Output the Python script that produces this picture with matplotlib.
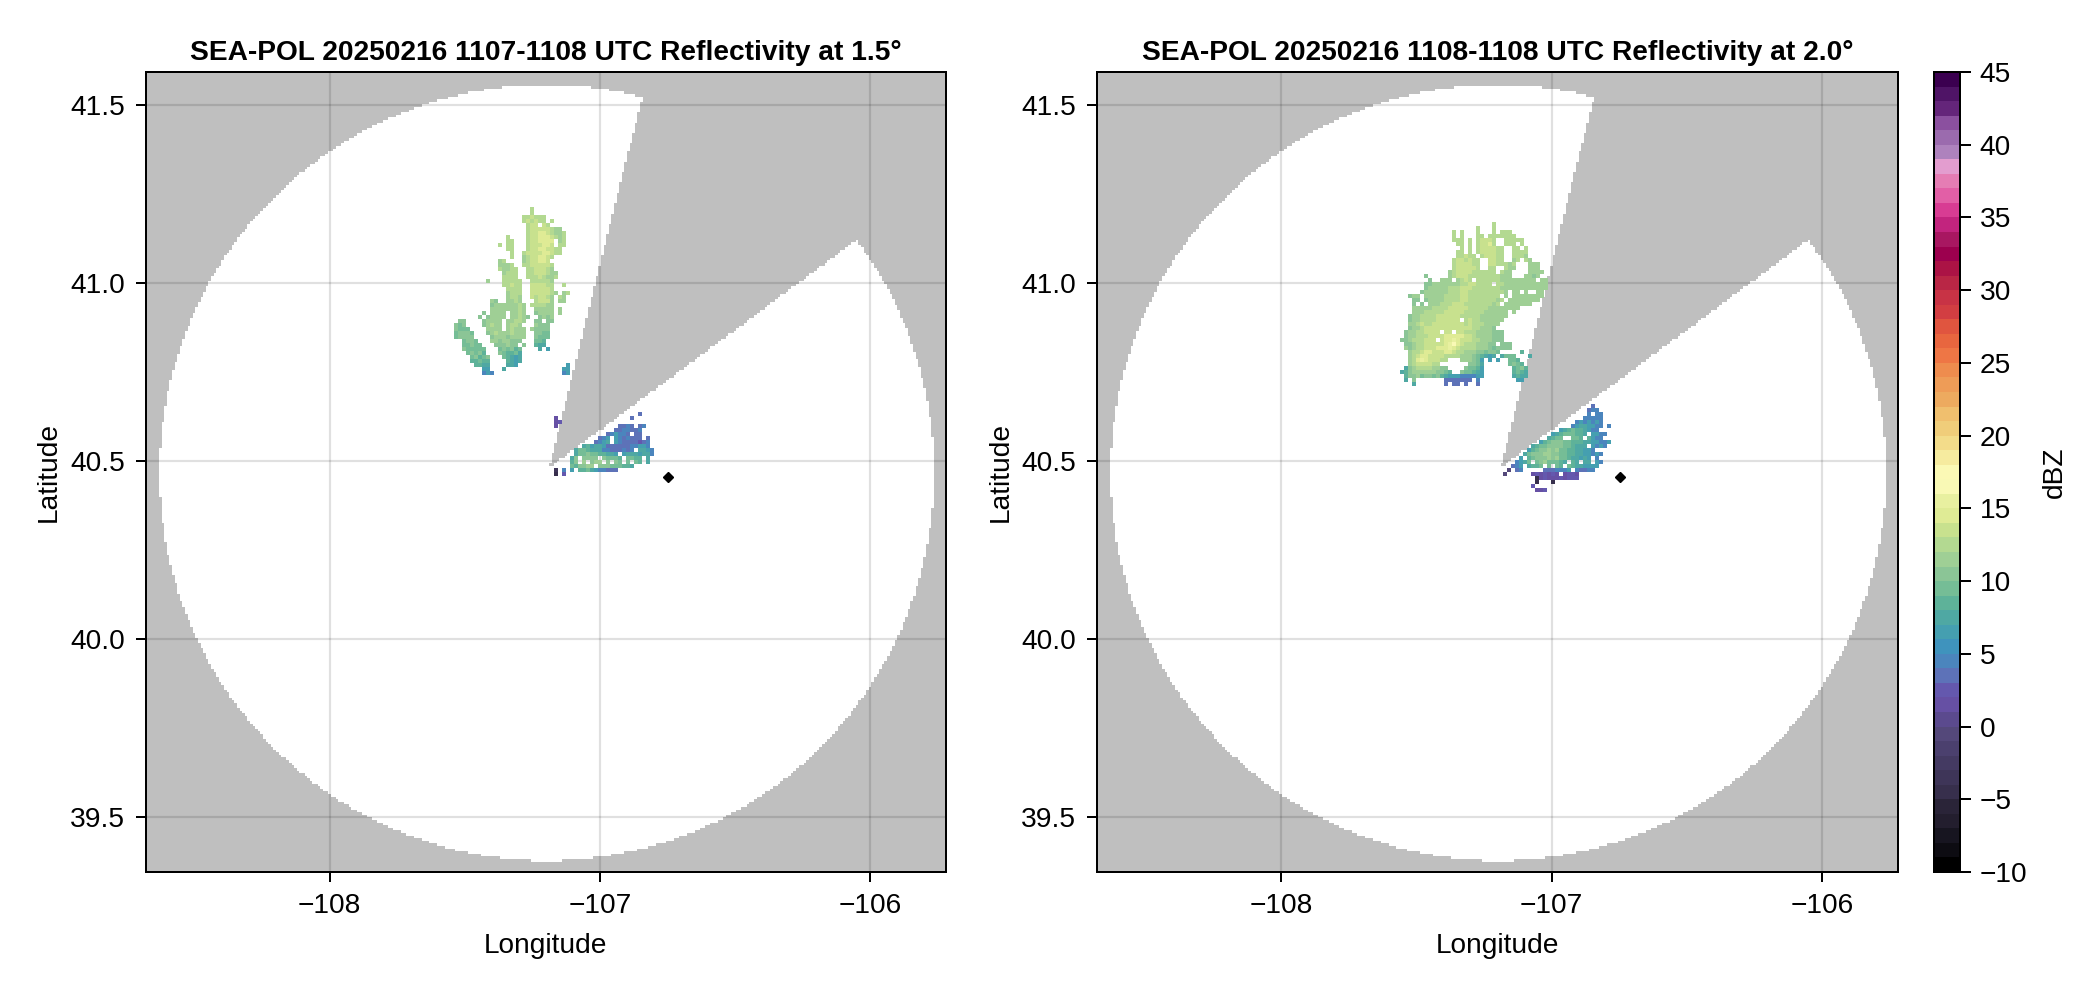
import matplotlib
matplotlib.use("Agg")
import matplotlib.pyplot as plt
import numpy as np
from matplotlib.colors import ListedColormap, Normalize

plt.rcParams["font.family"] = ["Liberation Sans", "DejaVu Sans"]
plt.rcParams["font.size"] = 20.25

titles = [
    "SEA-POL 20250216 1107-1108 UTC Reflectivity at 1.5°",
    "SEA-POL 20250216 1108-1108 UTC Reflectivity at 2.0°",
]
lon_ticks = [-108, -107, -106]
lat_ticks = [39.5, 40.0, 40.5, 41.0, 41.5]
cbar_ticks = list(range(-10, 50, 5))

# one colour per dBZ bin, -10 to 45
dbz_colors = [
    "#000000", "#0d0c12", "#171520", "#231e2e", "#2a2438", "#372f4c", "#3e3558",
    "#443a62", "#4b406e", "#54487a", "#5b4a8e", "#6650a4", "#6458ae", "#5d72b8",
    "#4b85bd", "#3f93bd", "#459fb0", "#4fa8a3", "#5eb299", "#75bd96", "#8bc596",
    "#9fcf95", "#b3d991", "#c8e18e", "#dfeb95", "#e8f0a0", "#f9f9b5", "#fbf9b5",
    "#f6eb9f", "#f3dc8a", "#f0cd7a", "#f0bf6e", "#edaa5f", "#ee9c57", "#ee8c4e",
    "#ee7645", "#e8663f", "#e0553f", "#d23e42", "#c83345", "#b92645", "#ab1345",
    "#9c004e", "#a81761", "#c2247e", "#d83c93", "#e25fa6", "#e57db4", "#e39dcf",
    "#ae82bd", "#9b6bae", "#8b509f", "#64257a", "#4f1466", "#3b0050",
]

circle_lon, circle_lat = -107.197, 40.468
max_range_deg = 1.09  # in degrees of latitude
wedge_lon, wedge_lat = -107.188, 40.482
blocked_az = (14.1, 53.5)
city_lon, city_lat = -106.748, 40.455
xlim = (-108.68, -105.72)
ylim = (39.346, 41.594)
dlon, dlat = 0.0148, 0.01125
cover_step = 0.65  # coverage raster is finer than the echo raster

# dBZ rasters, one char per grid cell, '.' is no echo
DBZ_CODES = "vwxyz0123456789abcdefg"  # v = -5 ... 0 = 0 ... g = 16

echo_1_north = [
    "....................c",
    "....................c",
    "..................ccdccc",
    "..................cdcdcc.c",
    "...................cdd.dc",
    "...................cdddddcbb",
    "...................cddeedcbbc",
    "..............c....cddeeedcbc",
    "..............cc...cddeeee.bc",
    "............c.cc...cdddeed.cc",
    "..............cc...cddeeddcc",
    "...............c..cddddeedcc",
    "...............c..bcddeedc",
    "............bc....bcddeed",
    "............bbbc..ccdddddc",
    "............cbbcc..ccdddcb",
    ".............bccc..ccdddcbb",
    ".............cccc..cccdcbbc",
    ".........b...ccccc..cccccb",
    ".............ccdcc..ddddcc..c",
    "..............cccc..dddddc",
    "..............bccc..dddddcb.bc",
    "..............bccb..dcddcb.cb",
    "..........ba..bbcb...cdddb.bb",
    "..........abbbbbbcb.ccccbb",
    "..........bbbbbbbcb..bbbbb.b",
    "........a.bbbb.bbcb..abbbb.b",
    ".......a.abbbb.bbcba..abab",
    "..aa....abbbb.bbccb..aa.aa",
    ".a9a....abcbb.bccb...baaa",
    ".a999....bbbb.bcbbb.baaaa",
    ".9aaa9...abcbbbcbbb..aa99",
    ".9aaaa....abbbabbbb..a999",
    "...9aa9...bbabbaaa...998",
    "...99a99...aaabaa.a..877",
    "...a99999...9a9a89....7.6",
    "....9a9a8...a98897",
    ".....9a89a...98767",
    ".....88988....8767",
    "......8877....776............6",
    "........66...7..............66",
    "........565.................56",
]
echo_1_south = [
    "......................4",
    ".1..................4",
    ".12",
    ".1...............4454.45",
    "................4455445",
    "..............456554.44",
    "............456.6545444.4",
    "...........4567.654434245",
    "........78677644344455665",
    "......799877755444545.7765",
    "......799a9988776.67776775",
    ".....7a.aaaa.a9998.9988.7",
    ".....8a.b.abb.a.a9.9.98.7",
    ".....98aabb.aaa999887",
    ".w.5.6.8897655443",
    ".v.2",
]
echo_2_north = [
    ".......................c",
    "...................c...c",
    ".............c.c...c...c.ccc",
    ".............c.c...cc.ccccccc",
    ".............ccc.c.cdddc..ccccc",
    "..............cc.c.cddec..ccc.c",
    "...............c.c.cddddcc..cc.c",
    "..............cc.c.cddddcc..cccc",
    "..............ccdcc.cdddcc..cccb",
    ".............cddcdcc..ddcc..bc.cb",
    ".............cddddcc..ddcccbc...bbb",
    ".............cdddddc..cc..cbb...bbb",
    "............bcddddcccccc.cbb....bbbb",
    "......a.....bcdddccccccccbbb...bbab",
    ".......a..bbb.bcdc.ccccccbbbbbbbbb.bb",
    "......aabbbbbbbccddcccc.ccbbbbbbbbbbb",
    "......abbbbbcccdddcccccccbbbbbbbbbbbb",
    ".....abbbbbbcccddcccccccccb.bb.b..bb",
    "..abb.bbbbbccccddcccccccc.b.bbbbbbbb",
    "...aa.abbbbccccddcccccccbc.bbbbbbbb",
    "...a.a.bbbcccdddcccccccbc.bbbbbbb",
    "...bbbbbccccdddddcccccbbbbbbbb",
    "...bbbcccccdddddcccccbbbbbb.b",
    "..abbccccddddddcccccbbbbbbb",
    "..abbccccdddddd.cdccbbbbbb",
    "..bbcdccddddddddcdcccbbbb",
    "..abbcddddddddddddccbbba",
    ".abbccdddd.dd.ddcccbbbbaaa",
    ".abbcccddddeeeeeddcbbbbaaa",
    "aabcccddd.deefedddccbbbaaa",
    ".aabccdddddefgedcccbbbaa.aaa",
    ".babccdddeeefedccccbbba9aaaa",
    "..bccdeedddeedccbbbaa9aa9.....8",
    "..bcdeeddddccccbbba98767.7999...7",
    "..bcefedddcc...bbba96.6.6..998",
    "..bcddddcc.......aa97......9a98",
    ".7abccccbbaa....a9986.......89a8",
    "78abbbbbbaa98..a99876.......8987",
    ".8aab9aa9a87666555566.......7877",
    ".7.a.......4344334.5.........66",
    "...7.......3.33.3..3",
]
echo_2_south = [
    "......................4",
    ".....................455",
    ".....................5.55",
    "....................55555",
    "..................5656565",
    ".................56776655.5",
    "..............6789887655",
    "............678999887.6655",
    "...........7899..998.8655",
    ".........689aaa998887766556",
    ".......7899aaaa998777.6565",
    "......689aabab998877665",
    ".....79aaabbaa99887766565",
    "....6.89aaabab99877676.5",
    "...5679.9ab99987.87.77.65",
    "..356.7889.9.98.98776666",
    ".z.45.....3445556.54455",
    "z......1212121.1221",
    "........v1211121222",
    "........v...v",
    ".......2",
    "........112",
]

# each echo patch and the lon/lat of its top left corner, per panel
panel_echoes = [
    [(echo_1_north, -107.555, 41.216), (echo_1_south, -107.185, 40.639)],
    [(echo_2_north, -107.560, 41.172), (echo_2_south, -107.179, 40.661)],
]


def rows_to_dbz(rows):
    width = max(len(r) for r in rows)
    out = np.full((len(rows), width), np.nan)
    for j, row in enumerate(rows):
        for i, ch in enumerate(row):
            if ch != ".":
                out[j, i] = DBZ_CODES.index(ch) - 5
    return np.ma.masked_invalid(out)


def coverage_mask():
    # gray wherever the radar does not see: out of range or in the blocked sector
    step_x, step_y = dlon * cover_step, dlat * cover_step
    lon_edges = np.arange(xlim[0], xlim[1] + step_x, step_x)
    lat_edges = np.arange(ylim[0], ylim[1] + step_y, step_y)
    lon_mid, lat_mid = np.meshgrid(lon_edges[:-1] + step_x / 2, lat_edges[:-1] + step_y / 2)
    coslat = np.cos(np.radians(circle_lat))
    rng = np.hypot((lon_mid - circle_lon) * coslat, lat_mid - circle_lat)
    az = np.degrees(np.arctan2((lon_mid - wedge_lon) * coslat, lat_mid - wedge_lat)) % 360
    blocked = (rng > max_range_deg) | ((az > blocked_az[0]) & (az < blocked_az[1]))
    return lon_edges, lat_edges, np.ma.masked_where(~blocked, np.ones_like(lon_mid))


W, H = 2096, 990
fig = plt.figure(figsize=(W / 100, H / 100), dpi=100)


def px_axes(x0, x1, y0, y1):
    return fig.add_axes([x0 / W, 1 - y1 / H, (x1 - x0) / W, (y1 - y0) / H])


cmap = ListedColormap(dbz_colors)
norm = Normalize(-10, 45)
cover_x, cover_y, cover = coverage_mask()
gray_cmap = ListedColormap(["black"])

mesh = None
for k, (x0, x1) in enumerate([(146, 946), (1097, 1898)]):
    ax = px_axes(x0, x1, 72, 872)
    ax.set_axisbelow(True)
    ax.grid(True, color="black", alpha=0.12, linewidth=1.6)
    ax.pcolormesh(cover_x, cover_y, cover, cmap=gray_cmap, alpha=0.25, zorder=1, linewidth=0)
    for rows, lon0, lat0 in panel_echoes[k]:
        dbz = rows_to_dbz(rows)
        lon_e = lon0 + dlon * np.arange(dbz.shape[1] + 1)
        lat_e = lat0 - dlat * np.arange(dbz.shape[0] + 1)
        mesh = ax.pcolormesh(lon_e, lat_e, dbz, cmap=cmap, norm=norm, zorder=2)
    ax.plot([city_lon], [city_lat], marker="D", color="black", markersize=5, zorder=3, linestyle="none")
    ax.set_xlim(xlim)
    ax.set_ylim(ylim)
    ax.set_xticks(lon_ticks)
    ax.set_yticks(lat_ticks)
    ax.set_yticklabels([f"{v:.1f}" for v in lat_ticks])
    ax.tick_params(length=7.2, width=1.44, pad=8, labelsize=20.25)
    for sp in ax.spines.values():
        sp.set_linewidth(1.44)
    ax.set_xlabel("Longitude", fontsize=20.25, labelpad=10)
    ax.set_ylabel("Latitude", fontsize=20.25, labelpad=5.5)
    ax.set_title(titles[k], fontsize=20.25, fontweight="bold", pad=9)

cax = px_axes(1934, 1960, 72, 872)
cb = fig.colorbar(mesh, cax=cax, ticks=cbar_ticks)
cb.set_label("dBZ", fontsize=20.25, labelpad=10.5)
cb.ax.tick_params(length=8, width=1.44, pad=6, labelsize=20.25)
cb.outline.set_linewidth(1.44)

fig.savefig("out.png", dpi=100)
